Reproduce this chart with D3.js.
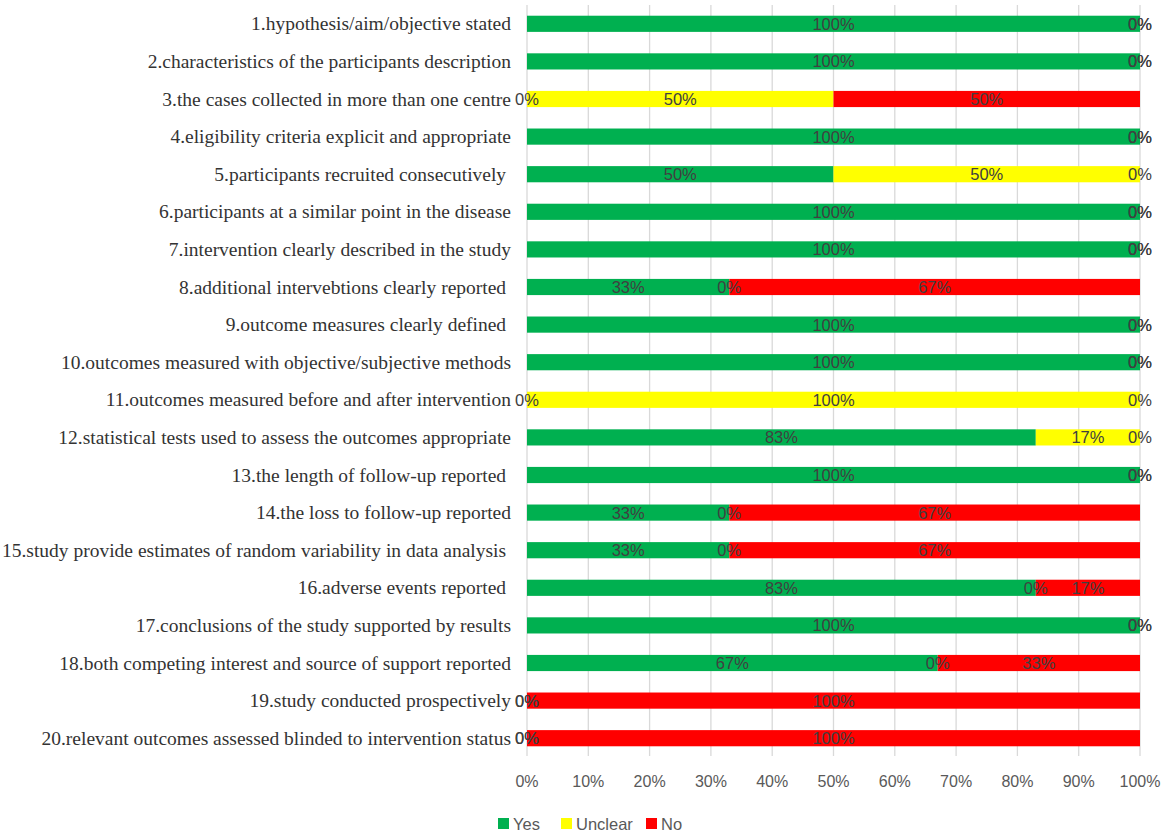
<!DOCTYPE html>
<html>
<head>
<meta charset="utf-8">
<script src="https://cdn.jsdelivr.net/npm/d3@7"></script>
<style>
  html, body { margin: 0; padding: 0; background: #fff; }
  svg { display: block; }
</style>
</head>
<body>
<svg id="chart" width="1170" height="838"></svg>
<script>
const CATEGORIES = [
  '1.hypothesis/aim/objective stated',
  '2.characteristics of the participants description',
  '3.the cases collected in more than one centre',
  '4.eligibility criteria explicit and appropriate',
  '5.participants recruited consecutively ',
  '6.participants at a similar point in the disease',
  '7.intervention clearly described in the study',
  '8.additional intervebtions clearly reported ',
  '9.outcome measures clearly defined ',
  '10.outcomes measured with objective/subjective methods',
  '11.outcomes measured before and after intervention',
  '12.statistical tests used to assess the outcomes appropriate',
  '13.the length of follow-up reported ',
  '14.the loss to follow-up reported',
  '15.study provide estimates of random variability in data analysis ',
  '16.adverse events reported ',
  '17.conclusions of the study supported by results',
  '18.both competing interest and source of support reported',
  '19.study conducted prospectively',
  '20.relevant outcomes assessed blinded to intervention status'
]

const YES     = [100, 100, 0, 100, 50, 100, 100, 33, 100, 100, 0, 83, 100, 33, 33, 83, 100, 67, 0, 0]
const UNCLEAR = [0, 0, 50, 0, 50, 0, 0, 0, 0, 0, 100, 17, 0, 0, 0, 0, 0, 0, 0, 0]
const NO      = [0, 0, 50, 0, 0, 0, 0, 67, 0, 0, 0, 0, 0, 67, 67, 17, 0, 33, 100, 100]

const SERIES = ['Yes', 'Unclear', 'No']
const COLORS = ['#00b050', '#ffff00', '#ff0000']
const TICKS = [0, 10, 20, 30, 40, 50, 60, 70, 80, 90, 100]

const rows = CATEGORIES.map((c, i) => ({ cat: c, Yes: YES[i], Unclear: UNCLEAR[i], No: NO[i] }))

const svg = d3.select('#chart')
const left = 527
const right = 1140

const x = d3.scaleLinear().domain([0, 100]).range([left, right])
const y = d3
  .scaleBand()
  .domain(CATEGORIES)
  .range([5, 757])
  .paddingInner(0.57)
  .paddingOuter(0.285)

// gridlines
svg
  .append('g')
  .selectAll('line')
  .data(TICKS)
  .join('line')
  .attr('x1', (d) => x(d))
  .attr('x2', (d) => x(d))
  .attr('y1', 5)
  .attr('y2', 756)
  .attr('stroke', '#d9d9d9')
  .attr('stroke-width', 1.3)

const stacked = d3.stack().keys(SERIES)(rows)

const layers = svg
  .append('g')
  .selectAll('g')
  .data(stacked)
  .join('g')
  .attr('fill', (_, i) => COLORS[i])

layers
  .selectAll('rect')
  .data((d) => d)
  .join('rect')
  .attr('x', (d) => x(d[0]))
  .attr('width', (d) => x(d[1]) - x(d[0]))
  .attr('y', (d) => y(d.data.cat))
  .attr('height', y.bandwidth())

// data labels, centred on each segment
const labels = svg.append('g')
stacked.forEach((layer) => {
  labels
    .append('g')
    .selectAll('text')
    .data(layer)
    .join('text')
    .attr('x', (d) => x((d[0] + d[1]) / 2))
    .attr('y', (d) => y(d.data.cat) + y.bandwidth() / 2)
    .attr('dy', '0.36em')
    .attr('text-anchor', 'middle')
    .attr('fill', '#404040')
    .attr('font-family', 'Liberation Sans, Arial, sans-serif')
    .attr('font-size', 16.5)
    .text((d) => `${d[1] - d[0]}%`)
})

// category labels
svg
  .append('g')
  .selectAll('text')
  .data(CATEGORIES)
  .join('text')
  .attr('x', 511)
  .attr('y', (d) => y(d) + y.bandwidth() / 2)
  .attr('dy', '0.34em')
  .attr('text-anchor', 'end')
  .attr('fill', '#333')
  .attr('font-family', 'Liberation Serif, Times New Roman, serif')
  .attr('font-size', 19.5)
  .style('white-space', 'pre')
  .text((d) => d)

// x axis tick labels
svg
  .append('g')
  .selectAll('text')
  .data(TICKS)
  .join('text')
  .attr('x', (d) => x(d))
  .attr('y', 787)
  .attr('text-anchor', 'middle')
  .attr('fill', '#595959')
  .attr('font-family', 'Liberation Sans, Arial, sans-serif')
  .attr('font-size', 16)
  .text((d) => `${d}%`)

// legend
const legendX = [498, 561, 646]
const legend = svg
  .append('g')
  .selectAll('g')
  .data(SERIES)
  .join('g')
  .attr('transform', (_, i) => `translate(${legendX[i]},818)`)

legend
  .append('rect')
  .attr('width', 11)
  .attr('height', 11)
  .attr('fill', (_, i) => COLORS[i])

legend
  .append('text')
  .attr('x', 15)
  .attr('y', 11.5)
  .attr('fill', '#595959')
  .attr('font-family', 'Liberation Sans, Arial, sans-serif')
  .attr('font-size', 16.5)
  .text((d) => d)
</script>
</body>
</html>
